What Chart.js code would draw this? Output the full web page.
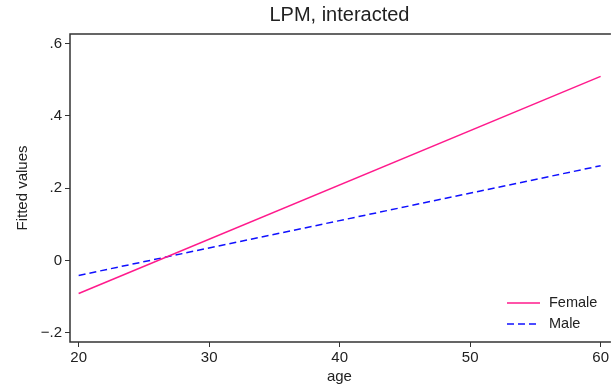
<!DOCTYPE html>
<html>
<head>
<meta charset="utf-8">
<script src="https://cdn.jsdelivr.net/npm/chart.js@4.4.1/dist/chart.umd.min.js"></script>
<style>
  html, body { margin: 0; padding: 0; background: #fff; overflow: hidden; }
  #wrap { width: 611px; height: 389px; }
</style>
</head>
<body>
<div id="wrap"><canvas id="lpm-chart" width="611" height="389"></canvas></div>
<script>
// Fitted values from the interacted LPM
const ages = [20, 60];
const femaleFit = [-0.091, 0.509];
const maleFit = [-0.041, 0.262];

const xTicks = [20, 30, 40, 50, 60];
const yTicks = [-0.2, 0, 0.2, 0.4, 0.6];
const yTickLabels = ['\u2212.2', '0', '.2', '.4', '.6'];

const FONT = '"Liberation Sans", Arial, Helvetica, sans-serif';
const AXIS_COLOR = '#333';

function toPoints(xs, ys) {
    return xs.map((x, i) => ({ x: x, y: ys[i] }));
}

// box around plot region (right side falls off the picture)
const plotBox = {
    id: 'plotBox',
    afterDraw(chart) {
        const { ctx, chartArea: a } = chart;
        ctx.save();
        ctx.strokeStyle = AXIS_COLOR;
        ctx.lineWidth = 1.5;
        ctx.beginPath();
        ctx.moveTo(a.right + 2, a.top);
        ctx.lineTo(a.left, a.top);
        ctx.lineTo(a.left, a.bottom);
        ctx.lineTo(a.right + 2, a.bottom);
        ctx.stroke();
        ctx.restore();
    }
};

// legend drawn inside the plot, lower right
const insideLegend = {
    id: 'insideLegend',
    afterDraw(chart) {
        const ctx = chart.ctx;
        ctx.save();
        ctx.font = '14.5px ' + FONT;
        ctx.textBaseline = 'middle';
        ctx.textAlign = 'left';
        chart.data.datasets.forEach((ds, i) => {
            const y = 303 + i * 21;
            ctx.strokeStyle = ds.borderColor;
            ctx.lineWidth = ds.borderWidth;
            ctx.setLineDash(ds.borderDash || []);
            ctx.beginPath();
            ctx.moveTo(507, y);
            ctx.lineTo(540, y);
            ctx.stroke();
            ctx.setLineDash([]);
            ctx.fillStyle = '#222';
            ctx.fillText(ds.label, 549, y);
        });
        ctx.restore();
    }
};

new Chart(document.getElementById('lpm-chart').getContext('2d'), {
    type: 'line',
    data: {
        datasets: [{
            label: 'Female',
            data: toPoints(ages, femaleFit),
            borderColor: '#ff1a8c',
            borderWidth: 1.5,
            pointRadius: 0,
            fill: false
        }, {
            label: 'Male',
            data: toPoints(ages, maleFit),
            borderColor: '#1010ff',
            borderWidth: 1.5,
            borderDash: [7, 4],
            pointRadius: 0,
            fill: false
        }]
    },
    options: {
        responsive: false,
        animation: false,
        layout: { padding: 0 },
        plugins: {
            legend: { display: false },
            tooltip: { enabled: false },
            title: {
                display: true,
                fullSize: false,
                text: 'LPM, interacted',
                color: '#222',
                font: { family: FONT, size: 20, weight: 'normal' },
                padding: { top: 3, bottom: 7 }
            }
        },
        scales: {
            x: {
                type: 'linear',
                min: 19.336,
                max: 60.634,
                afterBuildTicks(scale) {
                    scale.ticks = xTicks.map(v => ({ value: v }));
                },
                afterFit(scale) { scale.height = 47; },
                grid: { display: true, drawOnChartArea: false, tickLength: 5, color: AXIS_COLOR },
                border: { display: false },
                ticks: {
                    color: '#222',
                    padding: 2,
                    maxRotation: 0,
                    font: { family: FONT, size: 15 }
                },
                title: {
                    display: true,
                    text: 'age',
                    color: '#222',
                    font: { family: FONT, size: 15 },
                    padding: { top: 0, bottom: 3 }
                }
            },
            y: {
                min: -0.225,
                max: 0.626,
                afterBuildTicks(scale) {
                    scale.ticks = yTicks.map(v => ({ value: v }));
                },
                afterFit(scale) { scale.width = 70; },
                grid: { display: true, drawOnChartArea: false, tickLength: 5, color: AXIS_COLOR },
                border: { display: false },
                ticks: {
                    color: '#222',
                    padding: 3,
                    font: { family: FONT, size: 15 },
                    callback: (value) => {
                        const i = yTicks.findIndex(t => Math.abs(t - value) < 1e-9);
                        return i >= 0 ? yTickLabels[i] : '';
                    }
                },
                title: {
                    display: true,
                    text: 'Fitted values',
                    color: '#222',
                    font: { family: FONT, size: 15 },
                    padding: { top: 14, bottom: 0 }
                }
            }
        }
    },
    plugins: [plotBox, insideLegend]
});
</script>
</body>
</html>
